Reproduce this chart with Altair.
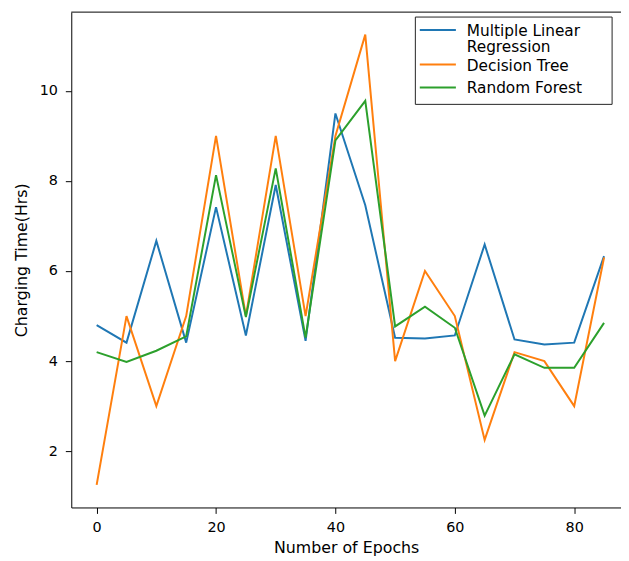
import altair as alt
import pandas as pd

epochs = list(range(0, 90, 5))
mlr = [4.8, 4.41, 6.67, 4.41, 7.42, 4.57, 7.91, 4.45, 9.5, 7.46, 4.52, 4.5, 4.57, 6.59, 4.48, 4.37, 4.41, 6.33]
dt = [1.25, 5.0, 3.0, 5.0, 9.0, 5.0, 9.0, 5.0, 9.0, 11.25, 4.0, 6.0, 5.0, 2.25, 4.2, 4.0, 3.0, 6.3]
rf = [4.2, 3.98, 4.23, 4.55, 8.13, 4.98, 8.28, 4.52, 8.9, 9.78, 4.77, 5.21, 4.74, 2.79, 4.15, 3.85, 3.85, 4.85]

series_names = ["Multiple Linear Regression", "Decision Tree", "Random Forest"]
legend_lines = [["Multiple Linear", "Regression"], ["Decision Tree"], ["Random Forest"]]
series_colors = ["#1f77b4", "#ff7f0e", "#2ca02c"]

rows = []
for name, vals in zip(series_names, [mlr, dt, rf]):
    for e, v in zip(epochs, vals):
        rows.append({"epoch": e, "time": v, "model": name})
df = pd.DataFrame(rows)

W, H = 556, 501
FONT = "DejaVu Sans"

lines = alt.Chart(df).mark_line(strokeWidth=2).encode(
    x=alt.X("epoch:Q",
            scale=alt.Scale(domain=[-4.25, 87.84], nice=False, zero=False),
            axis=alt.Axis(values=[0, 20, 40, 60, 80], title="Number of Epochs",
                          grid=False, tickSize=6, labelPadding=7, titlePadding=6)),
    y=alt.Y("time:Q",
            scale=alt.Scale(domain=[0.75, 11.75], nice=False, zero=False),
            axis=alt.Axis(values=[2, 4, 6, 8, 10], title="Charging Time(Hrs)",
                          grid=False, tickSize=6, labelPadding=8, titlePadding=10)),
    color=alt.Color("model:N",
                    scale=alt.Scale(domain=series_names, range=series_colors),
                    legend=None),
)

top_spine = alt.Chart(alt.Data(values=[{}])).mark_rule(color="black", strokeWidth=1).encode(
    x=alt.value(0), x2=alt.value(W), y=alt.value(0)
)

# legend (box, handles, labels) drawn in pixel space of the plot area
one = alt.Data(values=[{}])
legend_layers = [
    alt.Chart(one).mark_rect(fill="white", stroke="#222", strokeWidth=1).encode(
        x=alt.value(348), x2=alt.value(547), y=alt.value(5), y2=alt.value(93.3))
]
handle_y = [18, 53, 76.3]
text_y = [[24, 40.5], [60], [82.3]]
for i in range(3):
    legend_layers.append(
        alt.Chart(one).mark_rule(color=series_colors[i], strokeWidth=2).encode(
            x=alt.value(352.5), x2=alt.value(389), y=alt.value(handle_y[i])))
    for txt, ty in zip(legend_lines[i], text_y[i]):
        legend_layers.append(
            alt.Chart(one).mark_text(text=txt, align="left", baseline="alphabetic",
                                     font=FONT, fontSize=15.5, color="black").encode(
                x=alt.value(400), y=alt.value(ty)))

chart = alt.layer(lines, top_spine, *legend_layers).properties(
    width=W, height=H,
    background="white",
    autosize=alt.AutoSizeParams(type="none"),
    padding={"left": 64, "top": 1, "right": 0, "bottom": 52},
).configure_view(stroke=None).configure_axis(
    labelFont=FONT, titleFont=FONT, labelFontSize=14.5, titleFontSize=16,
    labelColor="black", titleColor="black", titleFontWeight="normal",
    domainColor="black", tickColor="black", domainWidth=1, tickWidth=1,
)

chart.save("out.html", embed_options={"renderer": "svg", "actions": False})
